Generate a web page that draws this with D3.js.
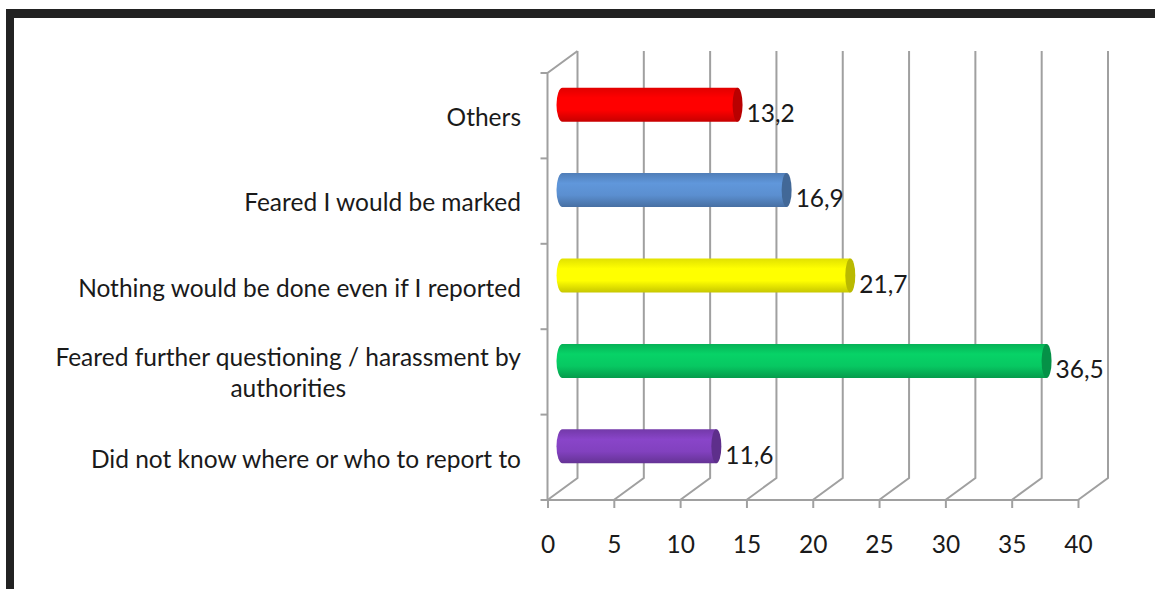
<!DOCTYPE html>
<html>
<head>
<meta charset="utf-8">
<script src="https://cdn.jsdelivr.net/npm/d3@7"></script>
<style>
  html, body { margin: 0; padding: 0; background: #fff; }
  svg { display: block; }
  text { font-family: Lato, "Open Sans", sans-serif; fill: #1a1a1a; }
</style>
</head>
<body>
<svg id="chart" width="1155" height="589"></svg>
<script>
// Reasons for not reporting (%), listed top to bottom
const categories = [
  ["Others"],
  ["Feared I would be marked"],
  ["Nothing would be done even if I reported"],
  ["Feared further questioning / harassment by", "authorities"],
  ["Did not know where or who to report to"]
];
const values = [13.2, 16.9, 21.7, 36.5, 11.6];
const valueLabels = ["13,2", "16,9", "21,7", "36,5", "11,6"];
const barColors = ["#ff0000", "#5b8fd0", "#ffff00", "#07c862", "#8241bf"];
const xTicks = [0, 5, 10, 15, 20, 25, 30, 35, 40];

const FONT = 24.5;
const svg = d3.select("#chart");

// frame
svg.append("rect").attr("x", 6).attr("y", 9).attr("width", 1149).attr("height", 9).attr("fill", "#222");
svg.append("rect").attr("x", 6).attr("y", 9).attr("width", 8).attr("height", 580).attr("fill", "#222");

// plot geometry (front plane) and 3-D depth offset
const plotLeft = 547.5, plotRight = 1078, plotTop = 73, plotBottom = 500;
const dx = 30, dy = -22;

const x = d3.scaleLinear().domain([0, 40]).range([plotLeft, plotRight]);
const y = d3.scaleBand().domain(d3.range(categories.length)).range([plotTop, plotBottom]);

const grid = svg.append("g").attr("stroke", "#a0a0a0").attr("stroke-width", 2).attr("fill", "none");

// back wall vertical gridlines + floor diagonals
xTicks.forEach(t => {
  const px = x(t);
  grid.append("path").attr("d", `M${px},${plotBottom} L${px + dx},${plotBottom + dy} L${px + dx},${plotTop + dy}`);
});
// left wall
grid.append("path").attr("d", `M${plotLeft},${plotBottom} L${plotLeft},${plotTop} L${plotLeft + dx},${plotTop + dy}`);
// front floor edge
grid.append("line").attr("x1", plotLeft).attr("x2", plotRight).attr("y1", plotBottom).attr("y2", plotBottom);

// x-axis ticks and labels
const xAxis = d3.axisBottom(x).tickValues(xTicks).tickSize(8).tickPadding(28).tickFormat(d3.format("d"));
const gx = svg.append("g").attr("transform", `translate(0,${plotBottom})`).call(xAxis);
gx.select(".domain").remove();
gx.selectAll(".tick line").attr("stroke", "#a0a0a0").attr("stroke-width", 2);
gx.selectAll(".tick text").attr("font-size", FONT).attr("font-family", "Lato, 'Open Sans', sans-serif").attr("fill", "#1a1a1a");

// y-axis category boundary ticks
d3.range(categories.length + 1).map(i => plotTop + i * y.step()).forEach(b => {
  grid.append("line").attr("x1", plotLeft - 7).attr("x2", plotLeft).attr("y1", b).attr("y2", b);
});

// category labels
const catG = svg.append("g");
categories.forEach((lines, i) => {
  const cy = y(i) + y.bandwidth() / 2 + 4;
  const lh = 31;
  const t = catG.append("text").attr("font-size", FONT).attr("dominant-baseline", "middle").attr("text-anchor", "end").attr("x", 521);
  if (lines.length === 1) {
    t.attr("y", cy).text(lines[0]);
  } else {
    // wrapped label: lines centred on each other, block right-aligned
    t.attr("y", cy - lh / 2 - 1).text(lines[0]);
    const w = t.node().getComputedTextLength();
    const cx = 521 - w / 2;
    lines.slice(1).forEach((ln, k) => {
      catG.append("text").attr("font-size", FONT).attr("dominant-baseline", "middle")
        .attr("text-anchor", "middle").attr("x", cx).attr("y", cy - lh / 2 - 1 + lh * (k + 1)).text(ln);
    });
  }
});

// cylinder gradients
const defs = svg.append("defs");
barColors.forEach((c, i) => {
  const base = d3.color(c);
  const g = defs.append("linearGradient").attr("id", "cyl" + i).attr("x1", 0).attr("y1", 0).attr("x2", 0).attr("y2", 1);
  g.append("stop").attr("offset", "0%").attr("stop-color", base.darker(0.35));
  g.append("stop").attr("offset", "30%").attr("stop-color", base.brighter(0.15));
  g.append("stop").attr("offset", "65%").attr("stop-color", base);
  g.append("stop").attr("offset", "100%").attr("stop-color", base.darker(0.7));
});

// bars drawn as horizontal cylinders at mid-depth
const barH = 34, rx = 6;
const bars = svg.append("g");
values.forEach((v, i) => {
  const cy = y(i) + y.bandwidth() / 2 + dy / 2;
  const x0 = x(0) + dx / 2, x1 = x(v) + dx / 2;
  const g = bars.append("g");
  g.append("path")
    .attr("d", `M${x0},${cy - barH / 2} L${x1},${cy - barH / 2} L${x1},${cy + barH / 2} L${x0},${cy + barH / 2} A${rx},${barH / 2} 0 0 1 ${x0},${cy - barH / 2} Z`)
    .attr("fill", `url(#cyl${i})`);
  g.append("ellipse").attr("cx", x1).attr("cy", cy).attr("rx", rx - 1).attr("ry", barH / 2)
    .attr("fill", d3.color(barColors[i]).darker(0.9));
  bars.append("text").attr("font-size", FONT).attr("dominant-baseline", "middle")
    .attr("x", x1 + 9).attr("y", y(i) + y.bandwidth() / 2).text(valueLabels[i]);
});
</script>
</body>
</html>
